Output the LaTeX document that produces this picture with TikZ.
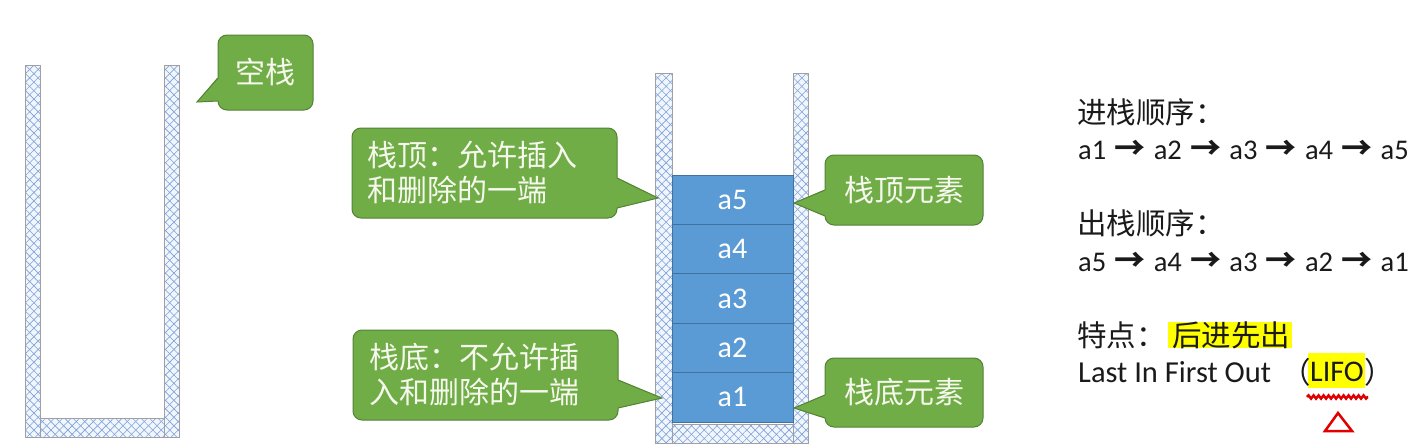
\documentclass[tikz,border=0pt]{standalone}
\usepackage{fontspec}
\setmainfont{Carlito}
\newfontfamily\cjk{Noto Sans CJK SC}
\usetikzlibrary{patterns.meta,calc,decorations.pathmorphing}
\definecolor{cgreen}{HTML}{70AD47}
\definecolor{cgreenb}{HTML}{548235}
\definecolor{ctext}{HTML}{F6F8EE}
\definecolor{bblue}{HTML}{5B9BD5}
\definecolor{bblueb}{HTML}{41719C}
\definecolor{wallfill}{HTML}{F0F6FD}
\definecolor{hatch}{HTML}{7F9FD6}
\definecolor{wallb}{HTML}{A0A0A0}
\definecolor{txt}{HTML}{1A1A1A}
\definecolor{hl}{HTML}{FFFF00}
\definecolor{redmark}{HTML}{E00000}
\newcommand\myarr{\makebox[47.5pt]{\cjk\bfseries\fontsize{31}{34}\selectfont →}}
\tikzset{
  wall/.style={fill=wallfill,
    postaction={pattern={Lines[angle=45,distance=6pt,line width=0.6pt]},pattern color=hatch},
    postaction={pattern={Lines[angle=-45,distance=6pt,line width=0.6pt]},pattern color=hatch},
    postaction={draw=wallb,line width=0.9pt}},
  callout/.style={fill=cgreen,draw=cgreenb,line width=1pt,rounded corners=9pt,
    text=ctext,inner sep=0pt,outer sep=0pt,font=\cjk\fontsize{30}{35}\selectfont},
  wedgefill/.style={fill=cgreen},
  wedgeline/.style={draw=cgreenb,line width=1pt,line join=miter},
  stackbox/.style={fill=bblue,draw=bblueb,line width=1pt,minimum width=121pt,
    minimum height=49.4pt,inner sep=0pt,outer sep=0pt,text=white,
    font=\fontsize{30}{34}\selectfont},
  rtxt/.style={text=txt,inner sep=0pt,anchor=west},
  redline/.style={draw=redmark,line width=2.5pt}
}
\begin{document}
\begin{tikzpicture}[x=1pt,y=-1pt]
\useasboundingbox[fill=white] (0,0) rectangle (1427,447);

% ---- empty stack
\path[wall] (25,65) rectangle (40,437);
\path[wall] (164,65) rectangle (179,437);
\path[wall] (40,418) rectangle (164,437);

% ---- filled stack
\path[wall] (655,73) rectangle (672,443);
\path[wall] (793,73) rectangle (808,443);
\path[wall] (672,424) rectangle (793,443);

\node[stackbox] (a5) at (732.5,199.7) {a5};
\node[stackbox] (a4) at (732.5,249.1) {a4};
\node[stackbox] (a3) at (732.5,298.5) {a3};
\node[stackbox] (a2) at (732.5,347.9) {a2};
\node[stackbox] (a1) at (732.5,397.3) {a1};

% ---- callouts
\node[callout,minimum width=95pt,minimum height=75pt] (c1) at (265.5,72.5) {空栈};
\coordinate (t1) at (197,102);
\fill[wedgefill] ($(c1.north west)+(3,43)$) -- ($(c1.north west)+(-1,43)$) -- (t1) -- ($(c1.north west)+(-1,66)$) -- ($(c1.north west)+(3,66)$) -- cycle;
\draw[wedgeline] ($(c1.north west)+(0,43)$) -- (t1) -- ($(c1.north west)+(0,66)$);

\node[callout,minimum width=265pt,minimum height=90pt,text width=235pt,align=left] (c2) at (484.5,173) {栈顶：允许插入\\和删除的一端};
\coordinate (t2) at (658,198);
\fill[wedgefill] ($(c2.north east)+(-3,50)$) -- ($(c2.north east)+(1,50)$) -- (t2) -- ($(c2.north east)+(1,80)$) -- ($(c2.north east)+(-3,80)$) -- cycle;
\draw[wedgeline] ($(c2.north east)+(0,50)$) -- (t2) -- ($(c2.north east)+(0,80)$);

\node[callout,minimum width=265pt,minimum height=90pt,text width=233pt,align=left] (c3) at (485.5,375) {栈底：不允许插\\入和删除的一端};
\coordinate (t3) at (662,398);
\fill[wedgefill] ($(c3.north east)+(-3,50)$) -- ($(c3.north east)+(1,50)$) -- (t3) -- ($(c3.north east)+(1,78)$) -- ($(c3.north east)+(-3,78)$) -- cycle;
\draw[wedgeline] ($(c3.north east)+(0,50)$) -- (t3) -- ($(c3.north east)+(0,78)$);

\node[callout,minimum width=158pt,minimum height=70pt] (c4) at (904,190) {栈顶元素};
\coordinate (t4) at (794,203);
\fill[wedgefill] ($(c4.north west)+(3,35)$) -- ($(c4.north west)+(-1,35)$) -- (t4) -- ($(c4.north west)+(-1,61)$) -- ($(c4.north west)+(3,61)$) -- cycle;
\draw[wedgeline] ($(c4.north west)+(0,35)$) -- (t4) -- ($(c4.north west)+(0,61)$);

\node[callout,minimum width=158pt,minimum height=69pt] (c5) at (904,392.5) {栈底元素};
\coordinate (t5) at (794,408);
\fill[wedgefill] ($(c5.north west)+(3,37)$) -- ($(c5.north west)+(-1,37)$) -- (t5) -- ($(c5.north west)+(-1,60)$) -- ($(c5.north west)+(3,60)$) -- cycle;
\draw[wedgeline] ($(c5.north west)+(0,37)$) -- (t5) -- ($(c5.north west)+(0,60)$);

% ---- right-hand text
\node[rtxt,font=\cjk\fontsize{29.5}{34}\selectfont] (inh) at (1077,112) {进栈顺序：};
\node[rtxt,font=\fontsize{28.5}{34}\selectfont] (ins) at (1078,150) {a1\myarr a2\myarr a3\myarr a4\myarr a5};
\node[rtxt,font=\cjk\fontsize{29.5}{34}\selectfont] (outh) at (1077,223) {出栈顺序：};
\node[rtxt,font=\fontsize{28.5}{34}\selectfont] (outs) at (1078,262) {a5\myarr a4\myarr a3\myarr a2\myarr a1};

\fill[hl] (1168,322) rectangle (1292,348);
\fill[hl] (1308,353) rectangle (1365,388);
\node[rtxt,font=\cjk\fontsize{29.5}{34}\selectfont] (feat) at (1077,335) {特点：};
\node[text=txt,inner sep=0pt,font=\cjk\fontsize{29.5}{34}\selectfont] (lifozh) at (1231,335) {后进先出};
\node[rtxt,font=\fontsize{30.5}{34}\selectfont] (lifoen) at (1078,372) {Last In First Out};
\node[rtxt,font=\cjk\fontsize{29.5}{34}\selectfont] (lp) at (1281,372) {（};
\node[text=txt,inner sep=0pt,font=\fontsize{30}{34}\selectfont] (lifo) at (1337,372) {LIFO};
\node[rtxt,font=\cjk\fontsize{29.5}{34}\selectfont] (rp) at (1364,372) {）};

\draw[redline,decorate,decoration={snake,amplitude=1.6pt,segment length=5pt}] (1307,397) -- (1368,397);
\draw[redline,line join=miter] (1338,413) -- (1352,431) -- (1325,431) -- cycle;
\end{tikzpicture}
\end{document}
